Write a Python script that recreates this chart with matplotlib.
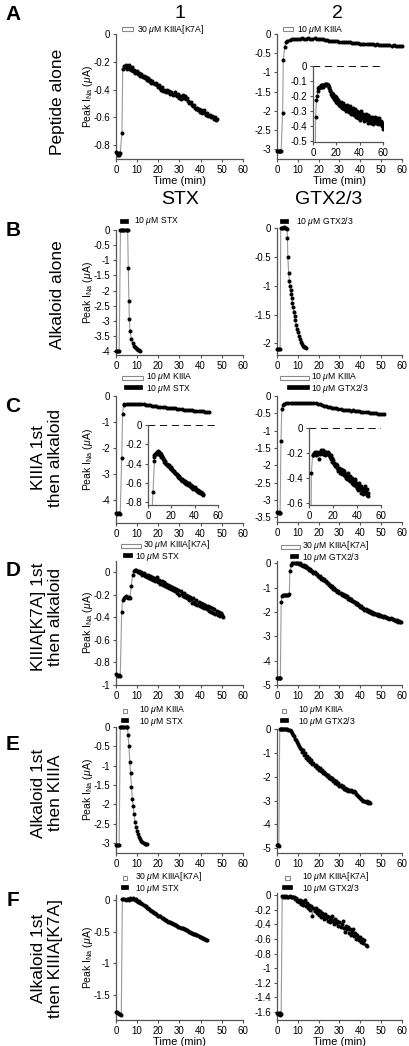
import numpy as np
import matplotlib
matplotlib.use('Agg')
import matplotlib.pyplot as plt
from matplotlib.patches import Rectangle

W, H = 410, 1046
plt.rcParams['font.family'] = ['Liberation Sans', 'DejaVu Sans']
plt.rcParams['mathtext.fontset'] = 'custom'
plt.rcParams['mathtext.rm'] = 'Liberation Sans'
plt.rcParams['mathtext.it'] = 'Liberation Sans:italic'
plt.rcParams['axes.unicode_minus'] = False

AXC = '#555555'
LINEC = '#9a9a9a'

# ---------------- data (time in min, peak I_Na in uA) ----------------
# A1: 30 uM KIIIA[K7A] alone
a1_early_t = [0, 0.4, 0.8, 1.2, 1.6, 2.0, 2.8]
a1_early_v = [-0.85, -0.86, -0.87, -0.86, -0.87, -0.86, -0.71]
a1_late = [-0.25, -0.23, -0.24, -0.22, -0.25, -0.23, -0.22, -0.25, -0.26, -0.24,
           -0.27, -0.26, -0.28, -0.27, -0.29, -0.28, -0.30, -0.29, -0.30, -0.31,
           -0.30, -0.32, -0.31, -0.33, -0.32, -0.34, -0.33, -0.35, -0.34, -0.35,
           -0.36, -0.35, -0.37, -0.38, -0.37, -0.39, -0.40, -0.38, -0.41, -0.40,
           -0.41, -0.42, -0.40, -0.42, -0.41, -0.43, -0.42, -0.44, -0.43, -0.42,
           -0.44, -0.45, -0.43, -0.46, -0.45, -0.47, -0.46, -0.44, -0.46, -0.45,
           -0.47, -0.46, -0.48, -0.50, -0.49, -0.51, -0.52, -0.51, -0.53, -0.54,
           -0.53, -0.55, -0.54, -0.56, -0.55, -0.57, -0.56, -0.55, -0.57, -0.58,
           -0.57, -0.59, -0.58, -0.60, -0.59, -0.60, -0.61, -0.60, -0.62, -0.61]

# A2: 10 uM KIIIA alone
a2_early_t = [0, 0.4, 0.8, 1.2, 1.6, 2.0, 2.7, 3.0, 3.7, 4.2]
a2_early_v = [-3.05, -3.06, -3.05, -3.06, -3.05, -3.05, -2.05, -0.68, -0.35, -0.22]
a2_late = [-0.17, -0.15, -0.14, -0.13, -0.12, -0.12, -0.12, -0.11, -0.12, -0.12,
           -0.11, -0.12, -0.12, -0.11, -0.12, -0.12, -0.13, -0.14, -0.15, -0.16,
           -0.17, -0.17, -0.18, -0.19, -0.19, -0.2, -0.2, -0.21, -0.21, -0.22,
           -0.22, -0.23, -0.23, -0.24, -0.24, -0.25, -0.25, -0.26, -0.26, -0.26,
           -0.27, -0.27, -0.28, -0.27, -0.28, -0.28, -0.29, -0.28, -0.29, -0.29,
           -0.30, -0.29, -0.30, -0.31, -0.30, -0.31]
a2i_early_t = [2.0, 2.2]
a2i_early_v = [-0.8, -0.34]
a2i_late = [-0.23, -0.2, -0.17, -0.15, -0.15, -0.14, -0.14, -0.14, -0.13, -0.14,
            -0.13, -0.13, -0.14, -0.13, -0.13, -0.12, -0.13, -0.12, -0.12, -0.13,
            -0.13, -0.14, -0.15, -0.16, -0.17, -0.19, -0.18, -0.2, -0.21, -0.19,
            -0.22, -0.2, -0.23, -0.21, -0.24, -0.22, -0.25, -0.23, -0.26, -0.24,
            -0.25, -0.27, -0.24, -0.26, -0.28, -0.25, -0.27, -0.29, -0.26, -0.28,
            -0.3, -0.27, -0.29, -0.26, -0.3, -0.28, -0.31, -0.27, -0.3, -0.32,
            -0.29, -0.31, -0.28, -0.32, -0.3, -0.33, -0.29, -0.31, -0.34, -0.3,
            -0.32, -0.35, -0.31, -0.33, -0.36, -0.32, -0.34, -0.3, -0.33, -0.35,
            -0.32, -0.34, -0.37, -0.33, -0.35, -0.32, -0.36, -0.34, -0.38, -0.33,
            -0.35, -0.37, -0.34, -0.36, -0.38, -0.34, -0.36, -0.39, -0.35, -0.37,
            -0.34, -0.36, -0.38, -0.35, -0.37, -0.39, -0.36, -0.38, -0.35, -0.38,
            -0.37, -0.39, -0.38, -0.40, -0.42]

# B1: 10 uM STX alone
b1_t = [0, 0.5, 1, 1.5, 2.1, 2.5, 3, 3.5, 4, 4.5, 5, 5.5, 5.8, 6.1, 6.3, 6.6, 7.3,
        8.0, 8.5, 9.0, 9.5, 10.0, 10.5, 11.0, 11.3]
b1_v = [-4.0, -4.0, -4.01, -4.0, 0, 0, 0.01, 0, 0, 0.01, 0, 0, -1.25, -2.35,
        -2.95, -3.35, -3.6, -3.75, -3.82, -3.87, -3.91, -3.94, -3.96, -3.98, -4.0]

# B2: 10 uM GTX2/3 alone
b2_t = [0, 0.5, 1, 1.5, 1.8, 2.3, 2.8, 3.3, 3.8, 4.3, 4.8, 5.0, 5.2, 5.6, 5.9,
        6.2, 6.5, 6.8, 7.1, 7.4, 7.7, 8.0, 8.4, 8.8, 9.2, 9.6, 10.0, 10.5, 11.0,
        11.5, 12.0, 12.5, 13.0, 13.5, 14.0]
b2_v = [-2.1, -2.09, -2.1, -2.1, 0, 0, 0, 0.01, 0, 0, -0.01, -0.18, -0.5, -0.78,
        -0.92, -1.0, -1.08, -1.15, -1.22, -1.3, -1.37, -1.45, -1.52, -1.6, -1.68,
        -1.75, -1.81, -1.87, -1.92, -1.97, -2.01, -2.04, -2.06, -2.07, -2.08]

# C1: 10 uM KIIIA then 10 uM STX
c1_early_t = [0, 0.5, 1, 1.5, 2, 2.7, 3.1, 3.6]
c1_early_v = [-4.5, -4.52, -4.5, -4.51, -4.52, -2.4, -0.7, -0.35]
c1_late = [-0.32, -0.3, -0.31, -0.3, -0.29, -0.3, -0.31, -0.3, -0.32, -0.31,
           -0.33, -0.34, -0.35, -0.37, -0.38, -0.4, -0.41, -0.42, -0.43, -0.43,
           -0.45, -0.46, -0.47, -0.47, -0.48, -0.5, -0.5, -0.51, -0.52, -0.52,
           -0.54, -0.54, -0.55, -0.56, -0.56, -0.57, -0.58, -0.58, -0.6, -0.61,
           -0.62]
c1i_early_t = [2.0, 4.3, 5.5]
c1i_early_v = [-1.2, -0.7, -0.37]
c1i_late = [-0.33, -0.31, -0.3, -0.29, -0.3, -0.28, -0.29, -0.27, -0.3, -0.28,
            -0.29, -0.31, -0.3, -0.33, -0.32, -0.34, -0.35, -0.36, -0.38, -0.37,
            -0.39, -0.4, -0.41, -0.4, -0.42, -0.43, -0.42, -0.44, -0.45, -0.44,
            -0.46, -0.47, -0.46, -0.48, -0.49, -0.48, -0.5, -0.5, -0.51, -0.52,
            -0.51, -0.53, -0.54, -0.53, -0.55, -0.55, -0.56, -0.57, -0.56, -0.58,
            -0.57, -0.58, -0.59, -0.58, -0.6, -0.59, -0.61, -0.6, -0.62, -0.61,
            -0.6, -0.62, -0.63, -0.62, -0.64, -0.63, -0.65, -0.64, -0.66, -0.65,
            -0.64, -0.66, -0.67, -0.66, -0.68, -0.67, -0.69, -0.68, -0.7, -0.69,
            -0.71, -0.7, -0.72, -0.71, -0.72, -0.73]

# C2: 10 uM KIIIA then 10 uM GTX2/3
c2_early_t = [0, 0.4, 0.8, 1.2, 1.5, 1.9, 2.3, 2.8]
c2_early_v = [-3.35, -3.37, -3.36, -3.38, -3.37, -1.3, -0.38, -0.25]
c2_late = [-0.22, -0.2, -0.2, -0.19, -0.2, -0.2, -0.19, -0.2, -0.19, -0.2, -0.2,
           -0.19, -0.2, -0.21, -0.2, -0.21, -0.22, -0.24, -0.26, -0.28, -0.3,
           -0.31, -0.33, -0.34, -0.35, -0.36, -0.37, -0.38, -0.39, -0.4, -0.39,
           -0.41, -0.42, -0.41, -0.43, -0.44, -0.43, -0.45, -0.46, -0.45, -0.47,
           -0.48, -0.49, -0.48, -0.5, -0.51, -0.52, -0.51, -0.53]
c2i_early_t = [1.5, 2.0, 3.0]
c2i_early_v = [-1.0, -0.36, -0.22]
c2i_late = [-0.22, -0.2, -0.21, -0.19, -0.22, -0.2, -0.21, -0.19, -0.2, -0.25,
            -0.2, -0.19, -0.21, -0.18, -0.2, -0.19, -0.21, -0.18, -0.2, -0.19,
            -0.22, -0.2, -0.19, -0.21, -0.2, -0.19, -0.22, -0.21, -0.23, -0.22,
            -0.25, -0.24, -0.27, -0.26, -0.29, -0.28, -0.3, -0.31, -0.29, -0.32,
            -0.3, -0.33, -0.35, -0.32, -0.34, -0.36, -0.33, -0.35, -0.37, -0.34,
            -0.36, -0.38, -0.35, -0.39, -0.37, -0.4, -0.38, -0.41, -0.36, -0.4,
            -0.42, -0.39, -0.43, -0.41, -0.44, -0.4, -0.45, -0.42, -0.46, -0.43,
            -0.41, -0.47, -0.44, -0.48, -0.45, -0.5, -0.47, -0.44, -0.49, -0.52,
            -0.47, -0.5, -0.48, -0.53, -0.49, -0.51, -0.47, -0.52, -0.5, -0.54,
            -0.49, -0.52, -0.55]

# D1: 30 uM KIIIA[K7A] then 10 uM STX
d1_early_t = [0, 0.5, 1, 1.5, 2, 2.7, 3.1, 3.6, 4.1, 4.6, 5.1, 5.6, 6.1, 6.6,
              7.2, 7.9, 8.4, 8.9, 9.4, 9.9]
d1_early_v = [-0.9, -0.91, -0.92, -0.91, -0.92, -0.35, -0.25, -0.23, -0.22, -0.21,
              -0.22, -0.23, -0.22, -0.23, -0.12, -0.02, 0.01, 0.02, 0.02, 0.01]
d1_late = [0.0, 0.01, -0.01, 0.0, -0.02, -0.01, -0.03, -0.02, -0.04, -0.02, -0.05,
           -0.03, -0.06, -0.04, -0.07, -0.05, -0.08, -0.06, -0.04, -0.09, -0.07,
           -0.1, -0.08, -0.11, -0.09, -0.12, -0.1, -0.13, -0.11, -0.14, -0.12,
           -0.15, -0.13, -0.16, -0.14, -0.17, -0.15, -0.18, -0.16, -0.2, -0.17,
           -0.19, -0.21, -0.18, -0.22, -0.2, -0.23, -0.21, -0.25, -0.22, -0.24,
           -0.27, -0.23, -0.26, -0.28, -0.25, -0.29, -0.26, -0.3, -0.27, -0.31,
           -0.28, -0.32, -0.29, -0.31, -0.33, -0.3, -0.34, -0.31, -0.35, -0.32,
           -0.36, -0.33, -0.37, -0.34, -0.38, -0.35, -0.39, -0.36, -0.38, -0.4]

# D2: 30 uM KIIIA[K7A] then 10 uM GTX2/3
d2_early_t = [0, 0.4, 0.8, 1.2, 1.6, 2.0, 2.4, 2.9, 3.4, 3.9, 4.4, 4.9, 5.4, 5.9,
              6.2, 6.9, 7.4, 7.9, 8.4, 8.9, 9.4, 9.9, 10.4, 10.9, 11.4]
d2_early_v = [-4.7, -4.7, -4.71, -4.7, -4.7, -1.6, -1.32, -1.3, -1.29, -1.3, -1.28,
              -1.29, -1.28, -1.27, -0.32, -0.05, 0.0, 0.0, 0.01, 0.02, 0.0, 0.01,
              -0.02, 0.0, -0.05]
d2_late = [-0.05, -0.1, -0.08, -0.15, -0.12, -0.2, -0.18, -0.28, -0.24, -0.32, -0.3,
           -0.38, -0.36, -0.45, -0.42, -0.5, -0.55, -0.52, -0.62, -0.6, -0.68,
           -0.66, -0.74, -0.72, -0.82, -0.8, -0.9, -0.88, -0.96, -0.94, -1.05,
           -1.02, -1.1, -1.08, -1.16, -1.14, -1.22, -1.2, -1.28, -1.25, -1.33,
           -1.3, -1.38, -1.36, -1.45, -1.42, -1.5, -1.47, -1.55, -1.53, -1.6,
           -1.58, -1.66, -1.64, -1.72, -1.7, -1.78, -1.76, -1.84, -1.82, -1.9,
           -1.87, -1.95, -1.93, -1.99, -1.97, -2.03, -2.0, -2.06, -2.04, -2.09,
           -2.07, -2.12, -2.1, -2.15, -2.13, -2.17, -2.15, -2.2, -2.18, -2.22,
           -2.2, -2.25, -2.23, -2.27, -2.25, -2.3, -2.28, -2.33, -2.31, -2.36,
           -2.34, -2.4, -2.37, -2.42, -2.4]

# E1: 10 uM STX then 10 uM KIIIA
e1_t = [0, 0.5, 1, 1.5, 2.0, 2.5, 3, 3.5, 4, 4.5, 5, 5.4, 5.7, 6.1, 6.5, 6.9, 7.3,
        7.7, 8.1, 8.5, 9.0, 9.5, 10, 10.5, 11, 11.5, 12, 12.5, 13, 13.5, 14, 14.5]
e1_v = [-3.05, -3.06, -3.05, -3.05, 0, 0, 0, 0, 0, 0, 0, 0, -0.2, -0.5, -0.9,
        -1.2, -1.55, -1.85, -2.05, -2.25, -2.45, -2.6, -2.7, -2.78, -2.85, -2.9,
        -2.94, -2.97, -3.0, -3.02, -3.03, -3.03]

# E2: 10 uM GTX2/3 then 10 uM KIIIA
e2_early_t = [0, 0.3, 0.6, 0.9, 1.3, 1.7, 2.1, 2.5, 3, 3.5, 4, 4.5, 5, 5.5]
e2_early_v = [-4.85, -4.86, -4.85, -4.9, -0.02, 0, 0, -0.01, 0, 0.01, 0, -0.02, 0,
              -0.03]
e2_late = [-0.03, -0.1, -0.18, -0.25, -0.3, -0.42, -0.48, -0.55, -0.62, -0.7,
           -0.78, -0.84, -0.95, -0.9, -1.08, -1.0, -1.2, -1.12, -1.3, -1.22,
           -1.38, -1.32, -1.48, -1.42, -1.55, -1.5, -1.62, -1.58, -1.7, -1.65,
           -1.78, -1.72, -1.85, -1.8, -1.9, -1.88, -1.98, -1.93, -2.05, -2.0,
           -2.1, -2.06, -2.18, -2.12, -2.25, -2.2, -2.32, -2.28, -2.38, -2.35,
           -2.45, -2.4, -2.5, -2.46, -2.55, -2.5, -2.58, -2.55, -2.62, -2.57,
           -2.6, -2.63, -2.58, -2.65, -2.72, -2.78, -2.82, -2.86, -2.9, -2.94,
           -2.98, -3.02, -3.0, -3.06, -3.04, -3.1, -3.08, -3.12]

# F1: 10 uM STX then 30 uM KIIIA[K7A]
f1_early_t = [0, 0.5, 1, 1.5, 2, 2.5, 3.0, 3.5, 4, 4.5, 5, 5.5, 6, 6.5, 7, 7.5, 8,
              8.5, 9, 9.5]
f1_early_v = [-1.78, -1.78, -1.79, -1.8, -1.81, -1.82, 0.02, 0.01, 0.02, 0.0,
              0.01, 0.02, 0.0, 0.03, 0.02, 0.01, 0.03, 0.02, 0.0, 0.01]
f1_late = [-0.01, -0.03, -0.02, -0.05, -0.05, -0.07, -0.08, -0.09, -0.1, -0.12,
           -0.13, -0.14, -0.15, -0.17, -0.17, -0.19, -0.2, -0.21, -0.22, -0.24,
           -0.25, -0.26, -0.26, -0.28, -0.29, -0.3, -0.31, -0.31, -0.33, -0.34,
           -0.34, -0.35, -0.36, -0.37, -0.38, -0.38, -0.4, -0.4, -0.41, -0.42,
           -0.42, -0.44, -0.44, -0.45, -0.46, -0.46, -0.48, -0.48, -0.49, -0.5,
           -0.5, -0.52, -0.52, -0.53, -0.54, -0.54, -0.56, -0.56, -0.57, -0.58,
           -0.59, -0.6, -0.6, -0.62, -0.62, -0.63, -0.64]

# F2: 10 uM GTX2/3 then 10 uM KIIIA[K7A]
f2_early_t = [0, 0.4, 0.8, 1.2, 1.6, 2.0, 2.5, 3, 3.5, 4, 4.5, 5, 5.5, 6, 6.5, 7,
              7.5]
f2_early_v = [-1.62, -1.63, -1.62, -1.64, -1.62, -1.63, -0.01, -0.02, -0.01, -0.02,
              -0.01, -0.02, -0.03, -0.01, -0.02, -0.03, -0.02]
f2_late = [-0.03, -0.05, -0.04, -0.08, -0.06, -0.1, -0.07, -0.12, -0.08, -0.14,
           -0.1, -0.06, -0.15, -0.11, -0.18, -0.13, -0.2, -0.15, -0.28, -0.18,
           -0.22, -0.17, -0.25, -0.2, -0.27, -0.22, -0.3, -0.24, -0.28, -0.33,
           -0.26, -0.31, -0.28, -0.35, -0.3, -0.37, -0.32, -0.28, -0.36, -0.4,
           -0.33, -0.38, -0.35, -0.42, -0.37, -0.44, -0.39, -0.35, -0.45, -0.5,
           -0.42, -0.47, -0.44, -0.52, -0.47, -0.55, -0.5, -0.46, -0.56, -0.52,
           -0.6, -0.54, -0.58, -0.62, -0.57, -0.64, -0.6, -0.66, -0.62, -0.68,
           -0.7]


def series(early_t, early_v, start, step, late):
    t = list(early_t) + [start + step * i for i in range(len(late))]
    return np.array(t), np.array(list(early_v) + list(late))


traces = {
    'A1': series(a1_early_t, a1_early_v, 3.2, 0.5, a1_late),
    'A2': series(a2_early_t, a2_early_v, 5.0, 1.0, a2_late),
    'B1': (np.array(b1_t), np.array(b1_v)),
    'B2': (np.array(b2_t), np.array(b2_v)),
    'C1': series(c1_early_t, c1_early_v, 4.0, 1.0, c1_late),
    'C2': series(c2_early_t, c2_early_v, 3.5, 1.0, c2_late),
    'D1': series(d1_early_t, d1_early_v, 10.5, 0.5, d1_late),
    'D2': series(d2_early_t, d2_early_v, 12.0, 0.5, d2_late),
    'E1': (np.array(e1_t), np.array(e1_v)),
    'E2': series(e2_early_t, e2_early_v, 6.0, 0.5, e2_late),
    'F1': series(f1_early_t, f1_early_v, 10.0, 0.5, f1_late),
    'F2': series(f2_early_t, f2_early_v, 8.0, 0.5, f2_late),
}
insets = {
    'A2': series(a2i_early_t, a2i_early_v, 3.0, 0.5, a2i_late),
    'C1': series(c1i_early_t, c1i_early_v, 5.0, 0.5, c1i_late),
    'C2': series(c2i_early_t, c2i_early_v, 3.5, 0.5, c2i_late),
}

# drug applications: (label, start, end, filled)
drugs = {
    'A1': [(r'30 $\mu$M KIIIA[K7A]', 2.8, 8.0, False)],
    'A2': [(r'10 $\mu$M KIIIA', 2.9, 7.7, False)],
    'B1': [(r'10 $\mu$M STX', 1.9, 5.7, True)],
    'B2': [(r'10 $\mu$M GTX2/3', 1.4, 5.3, True)],
    'C1': [(r'10 $\mu$M KIIIA', 2.8, 12.8, False), (r'10 $\mu$M STX', 3.8, 12.3, True)],
    'C2': [(r'10 $\mu$M KIIIA', 1.4, 15.4, False), (r'10 $\mu$M GTX2/3', 4.8, 15.4, True)],
    'D1': [(r'30 $\mu$M KIIIA[K7A]', 2.4, 11.8, False), (r'10 $\mu$M STX', 3.3, 7.6, True)],
    'D2': [(r'30 $\mu$M KIIIA[K7A]', 1.9, 11.0, False), (r'10 $\mu$M GTX2/3', 6.2, 10.1, True)],
    'E1': [(r'10 $\mu$M KIIIA', 3.3, 5.2, False), (r'10 $\mu$M STX', 2.4, 5.7, True)],
    'E2': [(r'10 $\mu$M KIIIA', 2.4, 4.3, False), (r'10 $\mu$M GTX2/3', 1.4, 5.3, True)],
    'F1': [(r'30 $\mu$M KIIIA[K7A]', 3.3, 5.2, False), (r'10 $\mu$M STX', 2.4, 5.7, True)],
    'F2': [(r'10 $\mu$M KIIIA[K7A]', 3.8, 6.2, False), (r'10 $\mu$M GTX2/3', 2.4, 7.2, True)],
}

yticks = {
    'A1': [0, -0.2, -0.4, -0.6, -0.8],
    'A2': [0, -0.5, -1, -1.5, -2, -2.5, -3],
    'B1': [0, -0.5, -1, -1.5, -2, -2.5, -3, -3.5, -4],
    'B2': [0, -0.5, -1, -1.5, -2],
    'C1': [0, -1, -2, -3, -4],
    'C2': [0, -0.5, -1, -1.5, -2, -2.5, -3, -3.5],
    'D1': [0, -0.2, -0.4, -0.6, -0.8, -1],
    'D2': [0, -1, -2, -3, -4, -5],
    'E1': [0, -0.5, -1, -1.5, -2, -2.5, -3],
    'E2': [0, -1, -2, -3, -4, -5],
    'F1': [0, -0.5, -1, -1.5],
    'F2': [0, -0.2, -0.4, -0.6, -0.8, -1, -1.2, -1.4, -1.6],
}
inset_yticks = {
    'A2': [0, -0.1, -0.2, -0.3, -0.4, -0.5],
    'C1': [0, -0.2, -0.4, -0.6, -0.8],
    'C2': [0, -0.2, -0.4, -0.6],
}
row_labels = ['Peptide alone', 'Alkaloid alone', 'KIIIA 1st\nthen alkaloid',
              'KIIIA[K7A] 1st\nthen alkaloid', 'Alkaloid 1st\nthen KIIIA',
              'Alkaloid 1st\nthen KIIIA[K7A]']

# ---------------- layout (pixels) ----------------
COLX = {1: (116, 243), 2: (277, 402)}
# key: (top px, bottom px, ylim)
box = {
    'A1': (34, 159, (-0.9, 0)), 'A2': (34, 159, (-3.26, 0)),
    'B1': (230, 355, (-4.13, 0)), 'B2': (228, 355, (-2.2, 0)),
    'C1': (396, 523, (-4.88, 0)), 'C2': (396, 522, (-3.64, 0)),
    'D1': (561, 685, (-1.0, 0.1)), 'D2': (561, 685, (-5.0, 0.1)),
    'E1': (727, 853, (-3.26, 0)), 'E2': (729, 853, (-5.2, 0)),
    'F1': (895, 1020, (-1.9, 0.08)), 'F2': (893, 1020, (-1.71, 0.03)),
}
inset_box = {
    'A2': (313, 383, 66, 142, (-0.51, 0)),
    'C1': (148, 218, 425, 505, (-0.83, 0)),
    'C2': (309, 381, 428, 505, (-0.62, 0)),
}
# (open bar y, filled bar y)
bar_y = {'A': (29, None), 'B': (None, 221), 'C': (378, 387), 'D': (546, 555),
         'E': (711, 720), 'F': (878, 887)}
text_x = {'A1': 137, 'A2': 297, 'B1': 134, 'B2': 296, 'C1': 146, 'C2': 311,
          'D1': 143, 'D2': 302, 'E1': 139, 'E2': 298, 'F1': 135, 'F2': 302}
row_y = {'A': 102, 'B': 295, 'C': 458, 'D': 617, 'E': 793, 'F': 958}
letter_y = {'A': 14, 'B': 230, 'C': 407, 'D': 571, 'E': 745, 'F': 900}


def fig_rect(l, r, top, bot):
    return [l / W, 1 - bot / H, (r - l) / W, (bot - top) / H]


def fmt(v):
    return '%g' % v


def style(ax, ylim, yt, xt):
    ax.set_xlim(0, 60)
    ax.set_ylim(*ylim)
    for s in ['top', 'right']:
        ax.spines[s].set_visible(False)
    for s in ['left', 'bottom']:
        ax.spines[s].set_color(AXC)
        ax.spines[s].set_linewidth(0.9)
    ax.set_xticks(xt)
    ax.set_xticklabels([fmt(v) for v in xt])
    ax.set_yticks(yt)
    ax.set_yticklabels([fmt(v) for v in yt])
    ax.tick_params(direction='out', length=2.5, width=0.8, color=AXC,
                   labelsize=7, pad=1.5)
    ax.patch.set_visible(False)


def draw(ax, t, v, clip):
    ax.plot(t, v, '-', color=LINEC, lw=0.8, zorder=2, clip_on=clip)
    ax.plot(t, v, 'o', ms=2.9, color='k', mec='none', zorder=3, clip_on=clip)


fig = plt.figure(figsize=(W / 100, H / 100), dpi=100)

for key, (top, bot, ylim) in box.items():
    row, col = key[0], int(key[1])
    l, r = COLX[col]
    ax = fig.add_axes(fig_rect(l, r, top, bot))
    style(ax, ylim, yticks[key], list(range(0, 61, 10)))
    t, v = traces[key]
    draw(ax, t, v, False)
    if row in 'AF':
        ax.set_xlabel('Time (min)', fontsize=8, labelpad=1)
    if col == 1:
        fig.text(88 / W, 1 - (top + bot) / 2 / H, r'Peak I$_{\mathregular{Na}}$ ($\mu$A)',
                 rotation=90, ha='center', va='center', fontsize=7.5)

    # drug application bars
    oy, fy = bar_y[row]
    if key == 'D2':
        oy, fy = 547, 556
    two = len(drugs[key]) == 2
    for label, t0, t1, filled in drugs[key]:
        y = fy if filled else oy
        x0 = l + (r - l) * t0 / 60
        x1 = l + (r - l) * t1 / 60
        if filled:
            rect = Rectangle((x0 / W, 1 - (y + 2) / H), (x1 - x0) / W, 4 / H,
                             transform=fig.transFigure, facecolor='k',
                             edgecolor='k', lw=0.5)
        else:
            rect = Rectangle((x0 / W, 1 - (y + 2) / H), (x1 - x0) / W, 4 / H,
                             transform=fig.transFigure, facecolor='white',
                             edgecolor='#8a8a8a', lw=0.8)
        fig.add_artist(rect)
        tx = text_x[key]
        if key == 'D1' and filled:
            tx = 135
        ty = y
        if two:
            ty = y + 1.8 if filled else y - 1.8
        fig.text(tx / W, 1 - ty / H, label, fontsize=6.2, ha='left', va='center')

    if key in inset_box:
        il, ir, it, ib, iylim = inset_box[key]
        ia = fig.add_axes(fig_rect(il, ir, it, ib))
        style(ia, iylim, inset_yticks[key], [0, 20, 40, 60])
        ia.axhline(0, color='k', lw=1.3, dashes=(4, 2.6), zorder=1)
        ti, vi = insets[key]
        draw(ia, ti, vi, True)

# column titles
fig.text(180 / W, 1 - 13 / H, '1', fontsize=14, ha='center', va='center')
fig.text(337 / W, 1 - 13 / H, '2', fontsize=14, ha='center', va='center')
fig.text(180 / W, 1 - 200 / H, 'STX', fontsize=14, ha='center', va='center')
fig.text(329 / W, 1 - 200 / H, 'GTX2/3', fontsize=14, ha='center', va='center')

for (row, y), lab in zip(row_y.items(), row_labels):
    x = 58 if '\n' not in lab else 47
    fig.text(x / W, 1 - y / H, lab, rotation=90, ha='center', va='center',
             fontsize=12.5, linespacing=1.1)
    fig.text(13 / W, 1 - letter_y[row] / H, row, fontsize=15, fontweight='bold',
             ha='center', va='center')

fig.savefig('out.png', dpi=100)
